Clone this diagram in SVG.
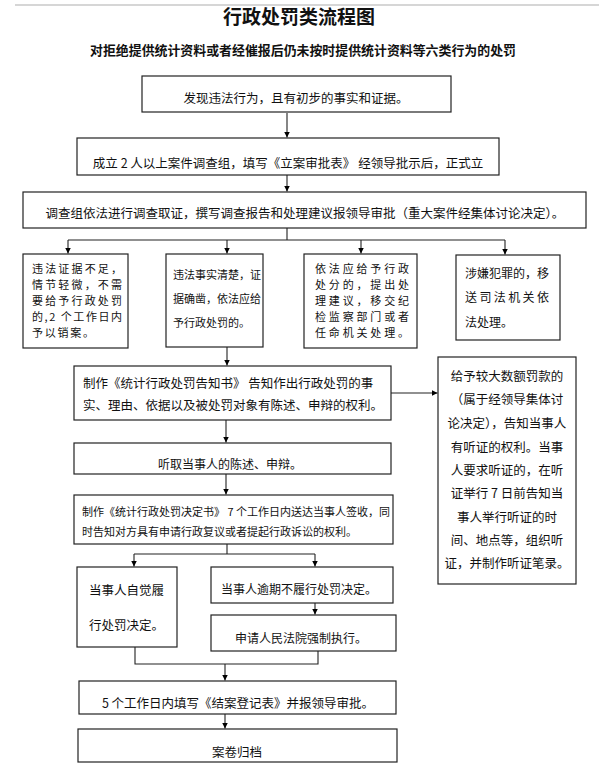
<svg xmlns="http://www.w3.org/2000/svg" width="599" height="768" viewBox="0 0 599 768">
<defs>
<marker id="ah" markerWidth="7" markerHeight="7" refX="6" refY="3.5" orient="auto" markerUnits="userSpaceOnUse">
<path d="M0,0.5 L6,3.5 L0,6.5 Z" fill="#000"/>
</marker>
</defs>
<style>
.box{fill:#fff;stroke:#222;stroke-width:1.2}
.t{font-family:"Noto Sans CJK SC","Liberation Sans",sans-serif;fill:#111;font-size:12.5px}
.c{text-anchor:middle}
.ln{fill:none;stroke:#222;stroke-width:1.1}
.ar{fill:none;stroke:#222;stroke-width:1.1;marker-end:url(#ah)}
</style>
<rect width="599" height="768" fill="#fff"/>
<line x1="15" y1="5" x2="599" y2="5" stroke="#d6d6d6" stroke-width="2"/>
<text class="t c" x="299" y="24" style="font-size:19px;font-weight:bold">行政处罚类流程图</text>
<text class="t c" x="303" y="54.5" style="font-size:13px;font-weight:bold" textLength="426" lengthAdjust="spacingAndGlyphs">对拒绝提供统计资料或者经催报后仍未按时提供统计资料等六类行为的处罚</text>

<g id="connectors">
<path class="ar" d="M287 113 V137.5"/>
<path class="ar" d="M287 175 V191.5"/>
<path class="ln" d="M287 228 V240 M68 240 H505"/>
<path class="ar" d="M68 240 V253.5"/>
<path class="ar" d="M227 240 V253.5"/>
<path class="ar" d="M361 240 V253.5"/>
<path class="ar" d="M505 240 V254.5"/>
<path class="ar" d="M227 347 V365.5"/>
<path class="ar" d="M391 393 H437.5"/>
<path class="ar" d="M226 420 V442.5"/>
<path class="ar" d="M226 474 V494.5"/>
<path class="ln" d="M227 544 V554 M134 554 H315"/>
<path class="ar" d="M134 554 V566.5"/>
<path class="ar" d="M315 554 V566.5"/>
<path class="ar" d="M315 603 V614.5"/>
<path class="ln" d="M135 647 V664 H318 V651"/>
<path class="ar" d="M225 664 V680.5"/>
<path class="ar" d="M225 714 V728.5"/>
</g>

<g id="n1"><rect class="box" x="142" y="76" width="309" height="36"/>
<text class="t c" x="296" y="102.5">发现违法行为，且有初步的事实和证据。</text></g>

<g id="n2"><rect class="box" x="77" y="138" width="422" height="37"/>
<text class="t c" x="288" y="167.5">成立 2 人以上案件调查组，填写《立案审批表》 经领导批示后，正式立</text></g>

<g id="n3"><rect class="box" x="23" y="192" width="563" height="36"/>
<text class="t c" x="305" y="217.5">调查组依法进行调查取证，撰写调查报告和处理建议报领导审批（重大案件经集体讨论决定）。</text></g>

<g id="nA"><rect class="box" x="23" y="254" width="105" height="94"/>
<g class="t" style="font-size:11px">
<text x="32" y="273" textLength="90" lengthAdjust="spacing">违法证据不足，</text>
<text x="32" y="289" textLength="90" lengthAdjust="spacing">情节轻微，不需</text>
<text x="32" y="305" textLength="90" lengthAdjust="spacing">要给予行政处罚</text>
<text x="32" y="321" textLength="90" lengthAdjust="spacing">的,2 个工作日内</text>
<text x="32" y="337" textLength="62" lengthAdjust="spacing">予以销案。</text>
</g></g>

<g id="nB"><rect class="box" x="166" y="254" width="97" height="93"/>
<g class="t" style="font-size:11px">
<text x="173" y="279">违法事实清楚，证</text>
<text x="173" y="302.5">据确凿，依法应给</text>
<text x="173" y="326.5">予行政处罚的。</text>
</g></g>

<g id="nC"><rect class="box" x="304" y="254" width="113" height="94"/>
<g class="t" style="font-size:11px">
<text x="315" y="273" textLength="94" lengthAdjust="spacing">依法应给予行政</text>
<text x="315" y="289" textLength="94" lengthAdjust="spacing">处分的，提出处</text>
<text x="315" y="305" textLength="94" lengthAdjust="spacing">理建议，移交纪</text>
<text x="315" y="321" textLength="94" lengthAdjust="spacing">检监察部门或者</text>
<text x="315" y="337" textLength="94" lengthAdjust="spacing">任命机关处理。</text>
</g></g>

<g id="nD"><rect class="box" x="456" y="255" width="104" height="85"/>
<g class="t" style="font-size:12px">
<text x="465" y="277.5">涉嫌犯罪的，移</text>
<text x="465" y="301.5" textLength="84" lengthAdjust="spacing">送司法机关依</text>
<text x="465" y="326.5">法处理。</text>
</g></g>

<g id="n4"><rect class="box" x="74" y="366" width="317" height="54"/>
<text class="t" x="83" y="387.5">制作《统计行政处罚告知书》 告知作出行政处罚的事</text>
<text class="t" x="83" y="409.5">实、理由、依据以及被处罚对象有陈述、申辩的权利。</text></g>

<g id="n5"><rect class="box" x="438" y="357" width="138" height="227"/>
<g class="t c">
<text x="507" y="380.5">给予较大数额罚款的</text>
<text x="507" y="403.5">（属于经领导集体讨</text>
<text x="507" y="427.5">论决定），告知当事人</text>
<text x="507" y="451.5">有听证的权利。当事</text>
<text x="507" y="474.5">人要求听证的，在听</text>
<text x="507" y="497.5">证举行 7 日前告知当</text>
<text x="507" y="521.5">事人举行听证的时</text>
<text x="507" y="544.5">间、地点等，组织听</text>
<text x="507" y="567.5">证，并制作听证笔录。</text>
</g></g>

<g id="n6"><rect class="box" x="74" y="443" width="317" height="31"/>
<text class="t c" x="230" y="469" style="font-size:12px">听取当事人的陈述、申辩。</text></g>

<g id="n7"><rect class="box" x="74" y="495" width="319" height="49"/>
<text class="t" x="82" y="516" style="font-size:11px">制作《统计行政处罚决定书》 7 个工作日内送达当事人签收，同</text>
<text class="t" x="82" y="536" style="font-size:11px">时告知对方具有申请行政复议或者提起行政诉讼的权利。</text></g>

<g id="n8"><rect class="box" x="77" y="567" width="100" height="80"/>
<text class="t" x="89" y="594.5">当事人自觉履</text>
<text class="t" x="89" y="629.5">行处罚决定。</text></g>

<g id="n9"><rect class="box" x="211" y="567" width="182" height="36"/>
<text class="t c" x="299" y="593.5" style="font-size:12px">当事人逾期不履行处罚决定。</text></g>

<g id="n10"><rect class="box" x="211" y="615" width="185" height="36"/>
<text class="t c" x="301" y="642.5" style="font-size:12px">申请人民法院强制执行。</text></g>

<g id="n11"><rect class="box" x="79" y="681" width="317" height="33"/>
<text class="t c" x="238" y="707.5">5 个工作日内填写《结案登记表》并报领导审批。</text></g>

<g id="n12"><rect class="box" x="78" y="729" width="319" height="33"/>
<text class="t c" x="237" y="756.5">案卷归档</text></g>
</svg>
